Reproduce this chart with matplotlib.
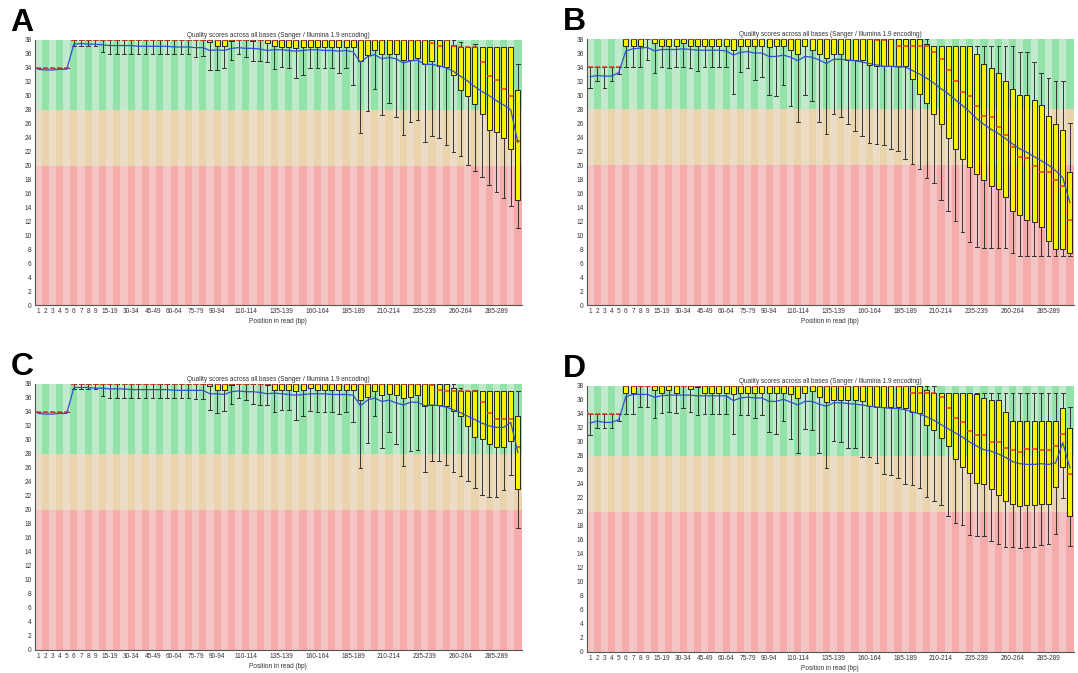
import matplotlib
matplotlib.use('Agg')
import matplotlib.pyplot as plt
import numpy as np

# FastQC position bins (1..9 single bases, then 5 bp groups, last 300-301)
categories = [str(i) for i in range(1, 10)] + [f'{s}-{s + 4}' for s in range(10, 300, 5)] + ['300-301']
shown_labels = ['1', '2', '3', '4', '5', '6', '7', '8', '9', '15-19', '30-34', '45-49', '60-64',
                '75-79', '90-94', '110-114', '135-139', '160-164', '185-189', '210-214',
                '235-239', '260-264', '285-289']

# ---- panel A ----
a_low = [34, 34, 34, 34, 34, 37.2, 37.2, 37.2, 37.2, 36.3,
         36, 36, 36, 36, 36, 36, 36, 36, 36, 36, 36, 36, 35.5, 35.7,
         33.7, 33.7, 34.0, 35.1, 36.0, 35.5, 35.0, 35.0, 34.8, 33.8, 34.2, 34.0, 32.5, 33.0,
         34.0, 34.0, 34.0, 34.0, 33.2, 34.0, 31.6,
         24.6, 27.8, 31.0, 27.2, 29.0, 27.0, 24.4, 26.2, 26.6, 23.4, 24.3, 24.0, 23.0, 22.0,
         21.3, 20.1, 19.2, 18.3, 17.2, 16.2, 15.4, 14.2, 11.0]
a_q1 = [34, 34, 34, 34, 34, 38, 38, 38, 38, 38,
        38, 38, 38, 38, 38, 38, 38, 38, 38, 38, 38, 38, 38, 38,
        37.7, 37.2, 37.2, 37.9, 38, 38, 37.8, 38, 37.6, 37.1, 37.0, 37.0, 36.8, 37.0,
        37.0, 37.0, 37.0, 37.0, 37.0, 37.0, 37.0,
        35.0, 35.9, 36.6, 36.0, 36.0, 36.0, 35.2, 35.2, 35.4, 34.6, 35.0, 34.3, 34.1, 33.0,
        30.9, 30.0, 28.8, 27.4, 25.1, 24.8, 24.0, 22.4, 15.0]
a_med = [34, 34, 34, 34, 34, 38, 38, 38, 38, 38,
         38, 38, 38, 38, 38, 38, 38, 38, 38, 38, 38, 38, 38, 38,
         38, 38, 38, 38, 38, 38, 38, 38, 38, 38, 38, 38, 38, 38,
         38, 38, 38, 38, 38, 38, 38,
         38, 38, 38, 38, 38, 38, 38, 38, 38, 38, 37.5, 37.1, 38, 37.1,
         37, 37, 37, 34.8, 32.8, 32.2, 31.0, 30.0, 23.5]
a_q3 = [34, 34, 34, 34, 34, 38, 38, 38, 38, 38,
        38, 38, 38, 38, 38, 38, 38, 38, 38, 38, 38, 38, 38, 38,
        38, 38, 38, 38, 38, 38, 38, 38, 38, 38, 38, 38, 38, 38,
        38, 38, 38, 38, 38, 38, 38,
        38, 38, 38, 38, 38, 38, 38, 38, 38, 38, 38, 38, 38, 37.3,
        37, 37, 37, 37, 37, 37, 37, 37, 30.9]
a_high = [34, 34, 34, 34, 34, 38, 38, 38, 38, 38,
          38, 38, 38, 38, 38, 38, 38, 38, 38, 38, 38, 38, 38, 38,
          38, 38, 38, 38, 38, 38, 38, 38, 38, 38, 38, 38, 38, 38,
          38, 38, 38, 38, 38, 38, 38,
          38, 38, 38, 38, 38, 38, 38, 38, 38, 38, 38, 38, 38, 38,
          37.7, 37, 37.4, 37, 37, 37, 37, 37, 34.5]
a_mean = [33.8, 33.7, 33.7, 33.8, 33.8, 37.4, 37.5, 37.4, 37.4, 37.3,
          37.2, 37.2, 37.2, 37.2, 37.1, 37.1, 37.1, 37.1, 37.1, 37.0, 37.0, 37.0, 36.9, 36.9,
          36.5, 36.6, 36.5, 36.8, 36.9, 36.8, 36.8, 36.7, 36.5, 36.6, 36.6, 36.5, 36.4, 36.5,
          36.6, 36.6, 36.5, 36.5, 36.4, 36.5, 36.3,
          34.8, 35.6, 35.9, 35.3, 35.5, 35.3, 34.7, 35.0, 35.1, 34.5, 34.5, 34.3, 34.0, 33.5,
          32.8, 32.1, 31.3, 30.6, 30.0, 29.3, 28.7, 28.0, 23.3]

# ---- panel B ----
b_low = [31.0, 32.0, 31.0, 32.0, 33.0, 34, 34, 34, 35, 33.2,
         34.0, 33.8, 34.0, 34.0, 33.8, 33.5, 34.0, 34.0, 34.0, 34.0,
         30.2, 33.3, 33.8, 32.2, 32.6, 30.0, 29.8, 31.4, 28.4, 26.2, 30.0, 29.2, 26.2, 24.4,
         27.3, 26.8, 25.9, 24.8, 24.2, 23.2, 23.0, 22.9, 22.3, 22.0, 20.9,
         20.1, 19.4, 18.2, 17.5, 15.0, 13.5, 12.0, 10.5, 9.0, 8.3, 8.1, 8.1, 8.1, 8.1,
         7.5, 7.0, 7.0, 7.0, 7.0, 7.0, 7.0, 7.0, 7.0]
b_q1 = [34, 34, 34, 34, 34, 37, 37, 37, 38, 37.5,
        37, 37, 37, 37.5, 37, 37, 37, 37, 37, 37,
        36.5, 37, 37, 37, 37, 36.8, 37, 37, 36.4, 35.9, 37, 36.4, 35.8, 35.3,
        35.9, 35.9, 35.0, 35.0, 35.0, 34.3, 34.1, 34.1, 34.1, 34.1, 34.1,
        32.3, 30.2, 28.9, 27.3, 25.9, 23.9, 22.3, 20.9, 19.7, 18.7, 17.9, 17.0, 16.6, 15.4,
        13.5, 12.9, 12.1, 11.9, 11.1, 9.1, 8.0, 8.0, 7.5]
b_med = [34, 34, 34, 34, 34, 38, 38, 38, 38, 38,
         38, 38, 38, 38, 38, 38, 38, 38, 38, 38,
         38, 38, 38, 38, 38, 38, 38, 38, 38, 38, 38, 38, 38, 38,
         38, 38, 38, 38, 38, 38, 37.8, 37.8, 38, 37, 37,
         37, 37, 37, 36.1, 35.2, 33.6, 32.0, 30.4, 29.8, 28.5, 27.0, 26.8, 25.5, 24.3,
         22.6, 21.2, 21.0, 19.8, 19.0, 19.0, 17.9, 17.0, 12.1]
b_q3 = [34, 34, 34, 34, 34, 38, 38, 38, 38, 38,
        38, 38, 38, 38, 38, 38, 38, 38, 38, 38,
        38, 38, 38, 38, 38, 38, 38, 38, 38, 38, 38, 38, 38, 38,
        38, 38, 38, 38, 38, 38, 38, 38, 38, 38, 38,
        38, 38, 37.3, 37, 37, 37, 37, 37, 37, 35.8, 34.4, 33.8, 33.1, 32.0,
        30.9, 30.0, 30.0, 29.3, 28.6, 27.0, 25.9, 25.0, 19.0]
b_high = [34, 34, 34, 34, 34, 38, 38, 38, 38, 38,
          38, 38, 38, 38, 38, 38, 38, 38, 38, 38,
          38, 38, 38, 38, 38, 38, 38, 38, 38, 38, 38, 38, 38, 38,
          38, 38, 38, 38, 38, 38, 38, 38, 38, 38, 38,
          38, 38, 38, 37, 37, 37, 37, 37, 37, 37, 37, 37, 37, 37,
          37, 36.1, 36.1, 34.7, 33.1, 32.4, 32.0, 32.0, 26.0]
b_mean = [32.6, 32.8, 32.7, 32.7, 33.2, 36.3, 36.6, 36.7, 36.8, 36.3,
          36.5, 36.5, 36.5, 36.6, 36.5, 36.4, 36.4, 36.4, 36.4, 36.3,
          35.7, 36.1, 36.2, 36.0, 36.0, 35.5, 35.5, 35.7, 35.4, 34.9, 35.5, 35.4, 35.0, 34.5,
          35.1, 35.1, 35.0, 34.9, 34.7, 34.5, 34.3, 34.1, 34.1, 34.0, 34.0,
          33.5, 33.0, 32.4, 31.7, 30.9, 30.2, 29.3, 28.5, 27.6, 26.6, 25.8, 25.1, 24.5, 23.8,
          23.0, 22.3, 21.8, 21.2, 20.6, 20.0, 19.2, 18.2, 14.6]

# ---- panel C ----
c_low = [34, 34, 34, 34, 34, 37.3, 37.3, 37.3, 37.3, 36.3,
         36, 36, 36, 36, 36, 36, 36, 36, 36, 36, 36, 36, 35.8, 35.8,
         34.3, 33.9, 34.2, 35.2, 36.0, 35.7, 35.2, 35.0, 35.0, 34.0, 34.3, 34.3, 32.9, 33.5,
         34.2, 34.0, 34.0, 34.0, 33.7, 34.0, 32.6,
         26.0, 29.6, 33.4, 28.9, 31.2, 29.4, 26.3, 28.4, 28.6, 25.5, 27.0, 27.0, 26.5, 25.4,
         24.8, 24.1, 23.2, 22.1, 21.9, 21.8, 22.9, 25.0, 17.5]
c_q1 = [34, 34, 34, 34, 34, 38, 38, 38, 38, 38,
        38, 38, 38, 38, 38, 38, 38, 38, 38, 38, 38, 38, 38, 38,
        37.7, 37.2, 37.2, 37.9, 38, 38, 38, 38, 37.8, 37.1, 37.2, 37.2, 37.0, 37.2,
        37.4, 37.1, 37.1, 37.1, 37.1, 37.1, 37.1,
        35.7, 36.1, 37.0, 36.5, 36.6, 36.5, 36.0, 36.2, 36.4, 34.9, 35.0, 35.0, 34.9, 34.2,
        33.4, 32.0, 30.4, 30.2, 29.4, 29.0, 29.0, 29.9, 23.0]
c_med = [34, 34, 34, 34, 34, 38, 38, 38, 38, 38,
         38, 38, 38, 38, 38, 38, 38, 38, 38, 38, 38, 38, 38, 38,
         38, 38, 38, 38, 38, 38, 38, 38, 38, 38, 38, 38, 38, 38,
         38, 38, 38, 38, 38, 38, 38,
         38, 38, 38, 38, 38, 38, 38, 38, 38, 38, 37.8, 37.2, 37.0, 37.0,
         37.0, 37.0, 37.0, 35.4, 33.8, 33.0, 33.0, 33.0, 29.0]
c_q3 = [34, 34, 34, 34, 34, 38, 38, 38, 38, 38,
        38, 38, 38, 38, 38, 38, 38, 38, 38, 38, 38, 38, 38, 38,
        38, 38, 38, 38, 38, 38, 38, 38, 38, 38, 38, 38, 38, 38,
        38, 38, 38, 38, 38, 38, 38,
        38, 38, 38, 38, 38, 38, 38, 38, 38, 38, 38, 38, 38, 37.5,
        37, 37, 37, 37, 37, 37, 37, 37, 33.4]
c_high = [34, 34, 34, 34, 34, 38, 38, 38, 38, 38,
          38, 38, 38, 38, 38, 38, 38, 38, 38, 38, 38, 38, 38, 38,
          38, 38, 38, 38, 38, 38, 38, 38, 38, 38, 38, 38, 38, 38,
          38, 38, 38, 38, 38, 38, 38,
          38, 38, 38, 38, 38, 38, 38, 38, 38, 38, 38, 38, 38, 38,
          37.5, 37, 37.2, 37, 37, 37, 37, 37, 37]
c_mean = [33.8, 33.7, 33.7, 33.8, 33.8, 37.5, 37.5, 37.5, 37.4, 37.4,
          37.3, 37.3, 37.3, 37.2, 37.2, 37.2, 37.2, 37.2, 37.2, 37.1, 37.1, 37.1, 37.1, 37.1,
          36.6, 36.6, 36.5, 36.9, 37.0, 36.9, 36.9, 36.8, 36.6, 36.7, 36.6, 36.5, 36.4, 36.5,
          36.6, 36.6, 36.6, 36.5, 36.5, 36.5, 36.4,
          34.9, 35.7, 36.0, 35.5, 35.7, 35.3, 35.0, 35.4, 35.4, 34.9, 35.0, 34.9, 34.7, 34.3,
          33.9, 33.4, 32.9, 32.4, 32.0, 31.8, 31.8, 32.5, 28.2]

# ---- panel D ----
d_low = [31.0, 32.0, 32.0, 32.0, 33.0, 34, 34, 35, 35, 33.5,
         34.2, 34.3, 34.2, 34.8, 34.3, 33.8, 34, 34, 34, 34,
         31.2, 33.8, 33.9, 33.4, 33.8, 31.4, 31.2, 33.0, 30.5, 28.4, 31.9, 31.7, 28.5, 26.3,
         30.2, 30.0, 29.2, 29.1, 27.9, 27.8, 27.0, 25.4, 25.3, 24.8, 24.0,
         23.9, 23.5, 22.1, 21.6, 21.0, 19.4, 18.4, 18.2, 16.7, 16.6, 16.6, 15.9, 15.4, 15.0,
         15.0, 14.9, 15.0, 15.0, 15.3, 15.4, 16.8, 22.0, 15.1]
d_q1 = [34, 34, 34, 34, 34, 37, 37, 38, 38, 37.4,
        37, 37.5, 37, 38, 37.6, 37.8, 37, 37, 37, 37,
        36.8, 37, 37, 37, 37, 37, 37, 37, 36.8, 36.3, 37, 37.3, 36.5, 35.7,
        36.0, 36.0, 36.0, 36.0, 35.8, 35.1, 35.0, 35.0, 35.0, 35.0, 34.8,
        34.3, 34.1, 32.4, 31.7, 30.6, 29.4, 27.6, 26.4, 25.6, 24.1, 24.0, 23.3, 22.4, 21.6,
        21.1, 20.9, 21.0, 21.0, 21.1, 21.1, 23.6, 26.4, 19.5]
d_med = [34, 34, 34, 34, 34, 38, 38, 38, 38, 38,
         38, 38, 38, 38, 38, 38, 38, 38, 38, 38,
         38, 38, 38, 38, 38, 38, 38, 38, 38, 38, 38, 38, 38, 38,
         38, 38, 38, 38, 38, 38, 38, 38, 38, 38, 38,
         37, 37, 37, 37, 36.4, 34.8, 33.4, 32.9, 31.6, 31.0, 31.0, 30.0, 30.0, 29.2,
         28.8, 28.6, 29.0, 29.0, 28.8, 28.8, 29.4, 31.2, 25.4]
d_q3 = [34, 34, 34, 34, 34, 38, 38, 38, 38, 38,
        38, 38, 38, 38, 38, 38, 38, 38, 38, 38,
        38, 38, 38, 38, 38, 38, 38, 38, 38, 38, 38, 38, 38, 38,
        38, 38, 38, 38, 38, 38, 38, 38, 38, 38, 38,
        38, 38, 37.5, 37, 37, 37, 37, 37, 37, 36.8, 36.3, 36.0, 36.0, 34.3,
        33.0, 33.0, 33.0, 33.0, 33.0, 33.0, 33.0, 34.8, 32.0]
d_high = [34, 34, 34, 34, 34, 38, 38, 38, 38, 38,
          38, 38, 38, 38, 38, 38, 38, 38, 38, 38,
          38, 38, 38, 38, 38, 38, 38, 38, 38, 38, 38, 38, 38, 38,
          38, 38, 38, 38, 38, 38, 38, 38, 38, 38, 38,
          38, 38, 38, 38, 37, 37, 37, 37, 37, 37, 37, 37, 37, 37,
          37, 37, 37, 37, 37, 37, 37, 37, 35.0]
d_mean = [32.7, 33.0, 32.8, 32.8, 33.2, 36.5, 36.8, 36.8, 36.8, 36.4,
          36.6, 36.7, 36.7, 36.7, 36.7, 36.6, 36.6, 36.6, 36.6, 36.6,
          35.9, 36.3, 36.4, 36.3, 36.3, 35.8, 35.8, 36.1, 35.7, 35.3, 35.8, 35.8, 35.4, 35.1,
          35.6, 35.6, 35.5, 35.4, 35.3, 35.1, 35.0, 34.9, 34.8, 34.8, 34.6,
          34.3, 34.0, 33.6, 33.1, 32.5, 31.9, 31.3, 30.7, 30.0, 29.4, 28.9, 28.7, 28.3, 27.8,
          27.2, 26.9, 26.8, 26.8, 26.9, 26.8, 27.0, 29.9, 26.3]

# quality zones: (bottom, top, light stripe, dark stripe)
zones = [(0, 20, '#f4c4c4', '#f6abab'),
         (20, 28, '#ecdcc6', '#e9d4ad'),
         (28, 38, '#c0eacb', '#92e2aa')]

W, H = 1078, 673
fig = plt.figure(figsize=(W / 100, H / 100), dpi=100)
small = dict(family='Liberation Sans', size=4.7, color='#333333')


def draw_panel(rect, letter, low, q1, med, q3, high, mean):
    ax = fig.add_axes(rect)
    x = np.arange(len(categories))
    for lo, hi, c_light, c_dark in zones:
        cols = [c_light if i % 2 == 0 else c_dark for i in x]
        ax.bar(x, hi - lo, bottom=lo, width=1.0, color=cols, linewidth=0, zorder=0)

    stats = [dict(whislo=l, q1=a, med=m, q3=b, whishi=h)
             for l, a, m, b, h in zip(low, q1, med, q3, high)]
    ax.bxp(stats, positions=x, widths=0.7, capwidths=0.5, patch_artist=True,
           showfliers=False, manage_ticks=False,
           boxprops=dict(facecolor='#f6f200', edgecolor='#222222', linewidth=0.7),
           medianprops=dict(color='#ee3a1c', linewidth=1.1),
           whiskerprops=dict(color='#333333', linewidth=0.7),
           capprops=dict(color='#333333', linewidth=0.7))
    ax.plot(x, mean, color='#2f4fd6', lw=0.9, zorder=5)

    ax.set_xlim(-0.5, len(categories) - 0.5)
    ax.set_ylim(0, 38)
    ax.set_yticks(np.arange(0, 39, 2))
    ax.set_xticks([categories.index(s) for s in shown_labels])
    ax.set_xticklabels(shown_labels)
    for t in ax.get_xticklabels() + ax.get_yticklabels():
        t.set_fontfamily('Liberation Sans')
        t.set_fontsize(4.7)
        t.set_color('#333333')
    ax.tick_params(length=0, pad=2)
    for s in ['top', 'right']:
        ax.spines[s].set_visible(False)
    for s in ['left', 'bottom']:
        ax.spines[s].set_color('#555555')
        ax.spines[s].set_linewidth(0.8)
    ax.set_title('Quality scores across all bases (Sanger / Illumina 1.9 encoding)', pad=2.5, **small)
    ax.set_xlabel('Position in read (bp)', labelpad=2, **small)

    fig.text(rect[0] - 24 / W, rect[1] + rect[3] + 9 / H, letter, family='Liberation Sans',
             weight='bold', size=23, va='baseline')
    return ax


for arr in [a_low, a_q1, a_med, a_q3, a_high, a_mean, b_low, b_q1, b_med, b_q3, b_high, b_mean,
            c_low, c_q1, c_med, c_q3, c_high, c_mean, d_low, d_q1, d_med, d_q3, d_high, d_mean]:
    assert len(arr) == len(categories), len(arr)

draw_panel([34.5 / W, (H - 305) / H, 487 / W, 265 / H], 'A', a_low, a_q1, a_med, a_q3, a_high, a_mean)
draw_panel([586.5 / W, (H - 305) / H, 487 / W, 266 / H], 'B', b_low, b_q1, b_med, b_q3, b_high, b_mean)
draw_panel([34.5 / W, (H - 650) / H, 487 / W, 266 / H], 'C', c_low, c_q1, c_med, c_q3, c_high, c_mean)
draw_panel([586.5 / W, (H - 652) / H, 487 / W, 266 / H], 'D', d_low, d_q1, d_med, d_q3, d_high, d_mean)

fig.savefig('out.png', dpi=100)
